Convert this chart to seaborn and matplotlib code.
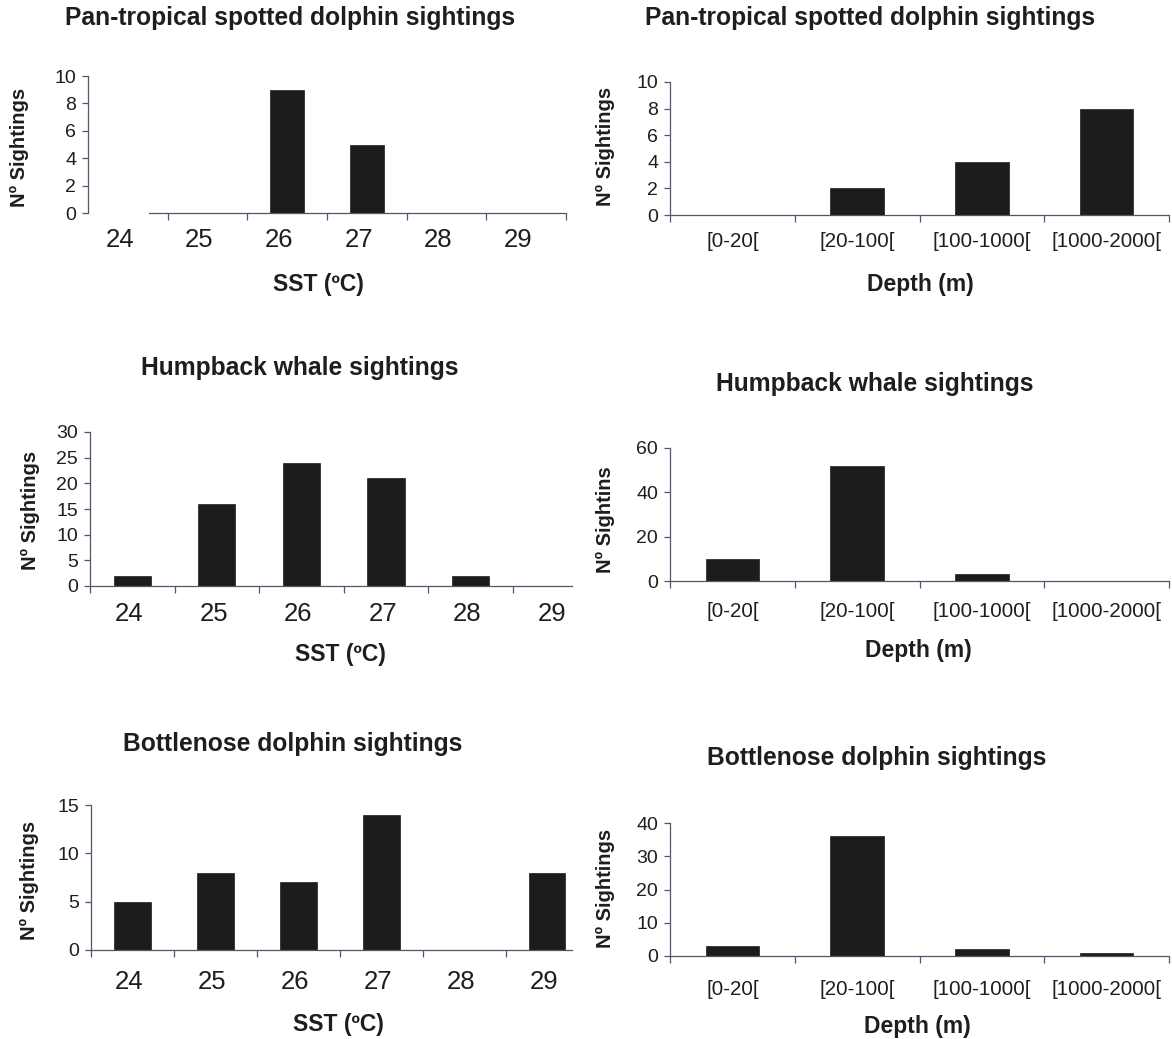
import matplotlib
matplotlib.use("Agg")
import matplotlib.pyplot as plt
import matplotlib.transforms as mtransforms
import seaborn as sns
import pandas as pd
from matplotlib.ticker import FixedLocator, NullFormatter

# Sighting counts per sea-surface temperature class and per depth class
sst_classes = ["24", "25", "26", "27", "28", "29"]
depth_classes = ["[0-20[", "[20-100[", "[100-1000[", "[1000-2000["]

spotted_sst = [0, 0, 9, 5, 0, 0]
spotted_depth = [0, 2, 4, 8]
humpback_sst = [2, 16, 24, 21, 2, 0]
humpback_depth = [10, 52, 3, 0]
bottlenose_sst = [5, 8, 7, 14, 0, 8]
bottlenose_depth = [3, 36, 2, 1]

species_titles = ["Pan-tropical spotted dolphin sightings",
                  "Humpback whale sightings",
                  "Bottlenose dolphin sightings"]
sst_label = "SST (ºC)"
depth_label = "Depth (m)"
y_labels = ["Nº Sightings", "Nº Sightings", "Nº Sightings",
            "Nº Sightins", "Nº Sightings", "Nº Sightings"]

sns.set_theme(style="white")
plt.rcParams["font.family"] = ["Liberation Sans", "DejaVu Sans"]

W, H = 1172, 1039
fig = plt.figure(figsize=(W / 100, H / 100), dpi=100)
fig.patch.set_facecolor("white")

BAR = "#1c1c1c"
AXIS = "#55556e"
TXT = "#1e1e1e"


def rect(left, right, top, bottom):
    return [left / W, 1 - bottom / H, (right - left) / W, (bottom - top) / H]


def ftext(x, y, s, **kw):
    fig.text(x / W, 1 - y / H, s, ha="center", va="center", color=TXT, **kw)


panels = [
    dict(vals=spotted_sst, cats=sst_classes, r=rect(88, 566, 76, 213), ymax=10, step=2,
         xr=5.5, start=0.26, pad=10.5, tsize=18.5, shift=-8, title=(290, 18), xl=(318, 285),
         yl=(19, 147), name=species_titles[0], xlab=sst_label, ylab=y_labels[0], w=0.42),
    dict(vals=spotted_depth, cats=depth_classes, r=rect(670, 1169, 82, 215), ymax=10, step=2,
         xr=3.5, start=-0.5, pad=12.5, tsize=14.8, shift=0, title=(870, 18), xl=(920, 285),
         yl=(605, 146), name=species_titles[0], xlab=depth_label, ylab=y_labels[1], w=0.43),
    dict(vals=humpback_sst, cats=sst_classes, r=rect(90, 572, 432, 586), ymax=30, step=5,
         xr=5.2, start=-0.5, pad=11.5, tsize=18.5, shift=-3, title=(300, 368), xl=(340, 655),
         yl=(30, 510), name=species_titles[1], xlab=sst_label, ylab=y_labels[2], w=0.44),
    dict(vals=humpback_depth, cats=depth_classes, r=rect(670, 1169, 448, 581), ymax=60, step=20,
         xr=3.5, start=-0.5, pad=15, tsize=14.8, shift=0, title=(875, 384), xl=(918, 651),
         yl=(605, 520), name=species_titles[1], xlab=depth_label, ylab=y_labels[3], w=0.43),
    dict(vals=bottlenose_sst, cats=sst_classes, r=rect(91, 572, 805, 950), ymax=15, step=5,
         xr=5.3, start=-0.5, pad=14.5, tsize=18.5, shift=-3, title=(293, 744), xl=(338, 1025),
         yl=(29, 880), name=species_titles[2], xlab=sst_label, ylab=y_labels[4], w=0.44),
    dict(vals=bottlenose_depth, cats=depth_classes, r=rect(670, 1169, 823, 956), ymax=40, step=10,
         xr=3.5, start=-0.5, pad=17, tsize=14.8, shift=0, title=(877, 758), xl=(917, 1026),
         yl=(605, 888), name=species_titles[2], xlab=depth_label, ylab=y_labels[5], w=0.43),
]

for p in panels:
    ax = fig.add_axes(p["r"])
    df = pd.DataFrame({"cls": p["cats"], "n": p["vals"]})
    sns.barplot(data=df, x="cls", y="n", order=p["cats"], color=BAR, saturation=1,
                width=p["w"], ax=ax, edgecolor=BAR, linewidth=0.5)
    ax.set_facecolor("white")
    ax.set_xlim(-0.5, p["xr"])
    ax.set_ylim(0, p["ymax"])
    ax.set_yticks(range(0, p["ymax"] + 1, p["step"]))
    ax.set_xlabel("")
    ax.set_ylabel("")
    for side in ("top", "right"):
        ax.spines[side].set_visible(False)
    for side in ("left", "bottom"):
        ax.spines[side].set_color(AXIS)
        ax.spines[side].set_linewidth(0.9)
    ax.spines["bottom"].set_bounds(p["start"], p["xr"])
    ax.spines["left"].set_bounds(0, p["ymax"])

    # category labels centred, tick marks at the class boundaries
    n = len(p["cats"])
    first = 0.5 if p["start"] > -0.5 else -0.5
    bounds = [b + first for b in range(n + 1) if b + first <= p["xr"] + 1e-9]
    ax.xaxis.set_minor_locator(FixedLocator(bounds))
    ax.xaxis.set_minor_formatter(NullFormatter())
    ax.tick_params(axis="x", which="major", length=0, pad=p["pad"],
                   labelsize=p["tsize"], labelcolor=TXT)
    ax.tick_params(axis="x", which="minor", length=5, width=0.9, color=AXIS,
                   direction="out", bottom=True)
    ax.tick_params(axis="y", which="major", length=4, width=0.9, color=AXIS,
                   direction="out", left=True, pad=4.5, labelsize=14, labelcolor=TXT)
    if p["shift"]:
        off = mtransforms.ScaledTranslation(p["shift"] / 100, 0, fig.dpi_scale_trans)
        for lab in ax.get_xticklabels():
            lab.set_transform(lab.get_transform() + off)

    ftext(*p["title"], p["name"], fontsize=17.7, fontweight="bold")
    ftext(*p["xl"], p["xlab"], fontsize=16.5, fontweight="bold")
    ftext(*p["yl"], p["ylab"], fontsize=14.5, fontweight="bold", rotation=90)

fig.savefig("out.png", dpi=100, facecolor="white")
